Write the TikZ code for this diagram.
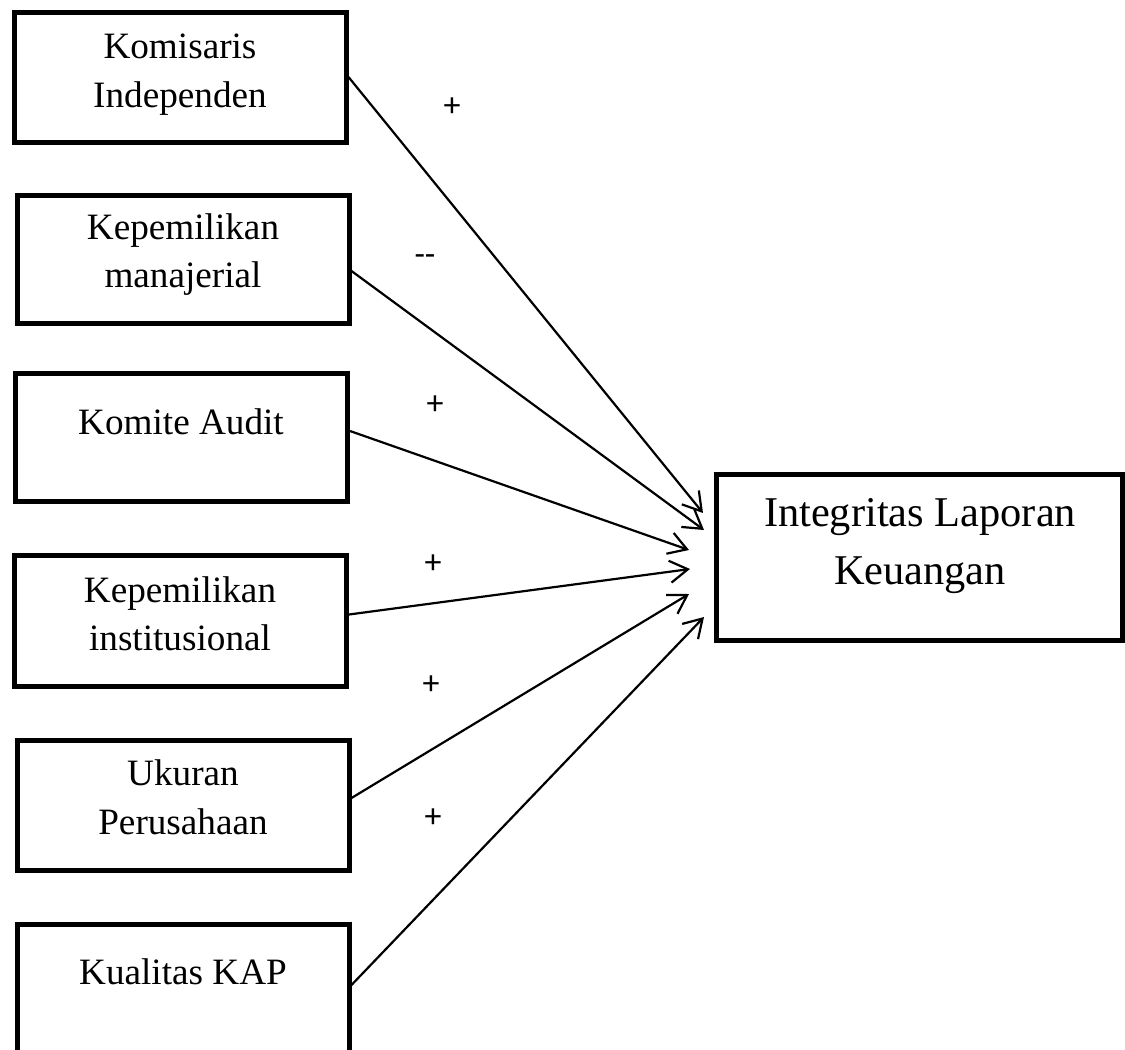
\documentclass[tikz,border=0pt]{standalone}
\usepackage{fontspec}
\setmainfont{Liberation Serif}
\newfontfamily\signfont{Carlito}
\usetikzlibrary{arrows.meta,calc}
\begin{document}
\begin{tikzpicture}[x=0.5pt,y=-0.5pt,
  box/.style={draw, line width=2.5pt, minimum width=166pt, minimum height=65pt, inner sep=0pt},
  bigbox/.style={draw, line width=2.5pt, minimum width=203pt, minimum height=83pt, inner sep=0pt},
  txt/.style={anchor=base, inner sep=0pt, font=\fontsize{18.6}{20}\selectfont},
  bigtxt/.style={anchor=base, inner sep=0pt, font=\fontsize{21.2}{24}\selectfont},
  sign/.style={inner sep=0pt, font=\signfont\fontsize{17}{18}\selectfont},
  conn/.style={line width=1.1pt, -{Straight Barb[length=9pt,width=11pt,line width=1.1pt]}}]
\useasboundingbox (0,0) rectangle (1125,1050);
% boxes
\node[box] (b1) at (180,77) {};
\node[box, minimum height=64pt] (b2) at (183,259) {};
\node[box, minimum height=64pt] (b3) at (181.5,437) {};
\node[box, minimum height=65.5pt] (b4) at (180.5,620.5) {};
\node[box] (b5) at (183,805) {};
\node[box] (b6) at (183,989) {};
\node[bigbox] (R) at (919,557) {};
% texts
\node[txt] (l1a) at (180,58) {Komisaris};
\node[txt] (l1b) at (180,107) {Independen};
\node[txt] (l2a) at (183,239) {Kepemilikan};
\node[txt] (l2b) at (183,287) {manajerial};
\node[txt] (l3a) at (181,434) {Komite Audit};
\node[txt] (l4a) at (180,602) {Kepemilikan};
\node[txt] (l4b) at (180,650) {institusional};
\node[txt] (l5a) at (183,785) {Ukuran};
\node[txt] (l5b) at (183,834) {Perusahaan};
\node[txt] (l6a) at (183,984) {Kualitas KAP};
\node[bigtxt] (lRa) at (920,526) {Integritas Laporan};
\node[bigtxt] (lRb) at (920,584) {Keuangan};
% arrow end points
\coordinate (t1) at (703,513);
\coordinate (t2) at (704,530);
\coordinate (t3) at (689,550);
\coordinate (t4) at (690,569);
\coordinate (t5) at (689,594);
\coordinate (t6) at (704,617);
% connectors
\draw[conn] (b1.east) -- (t1);
\draw[conn] ([yshift=-6pt]b2.east) -- (t2);
\draw[conn] ([yshift=3pt]b3.east) -- (t3);
\draw[conn] ([yshift=3pt]b4.east) -- (t4);
\draw[conn] ([yshift=3.5pt]b5.east) -- (t5);
\draw[conn] ([yshift=2pt]b6.east) -- (t6);
% signs
\node[sign] (s1) at (452,107) {+};
\node[sign] (s2) at (425,260) {-{}-};
\node[sign] (s3) at (435,405) {+};
\node[sign] (s4) at (433,564) {+};
\node[sign] (s5) at (431,685) {+};
\node[sign] (s6) at (433,818) {+};
\end{tikzpicture}
\end{document}
